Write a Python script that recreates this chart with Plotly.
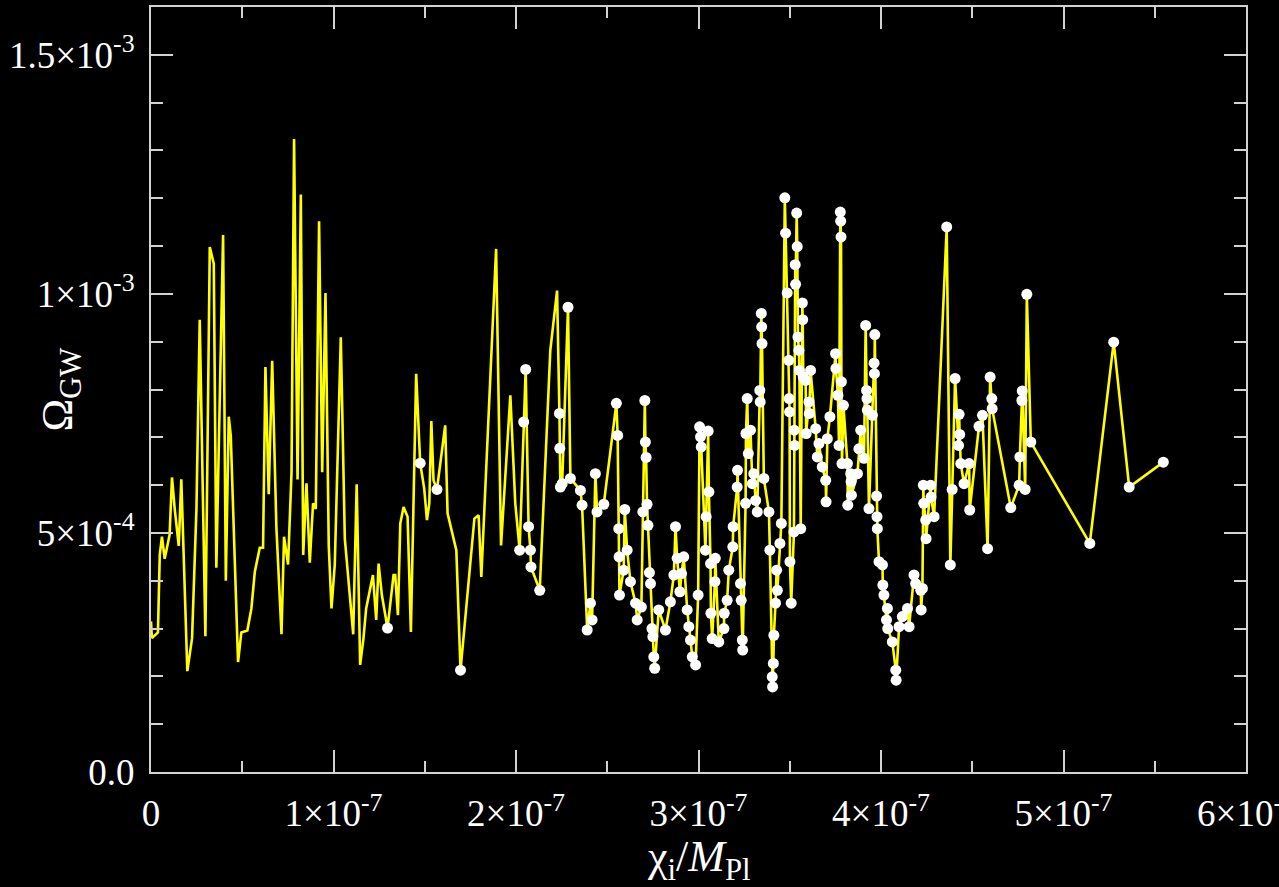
import plotly.graph_objects as go

# chi_i / M_Pl in units of 1e-7 ; Omega_GW in units of 1e-4
# points on the yellow curve that carry no white marker
x_line_only = [0.000, 0.005, 0.038, 0.048, 0.060, 0.075, 0.102, 0.115, 0.130, 0.152,
               0.166, 0.199, 0.225, 0.249, 0.267, 0.276, 0.298, 0.322, 0.344, 0.358,
               0.395, 0.410, 0.426, 0.437, 0.477, 0.495, 0.528, 0.550, 0.569, 0.596,
               0.614, 0.627, 0.645, 0.664, 0.687, 0.715, 0.729, 0.751, 0.770, 0.784,
               0.803, 0.821, 0.834, 0.852, 0.870, 0.888, 0.903, 0.921, 0.938, 0.956,
               0.974, 0.989, 1.007, 1.040, 1.062, 1.108, 1.127, 1.146, 1.164, 1.179,
               1.216, 1.234, 1.247, 1.265, 1.329, 1.338, 1.353, 1.366, 1.384, 1.406,
               1.424, 1.453, 1.497, 1.512, 1.525, 1.536, 1.548, 1.612, 1.625, 1.673,
               1.772, 1.795, 1.810, 1.891, 1.918, 1.969, 1.996, 2.188, 2.225]
y_line_only = [3.15, 2.80, 2.92, 4.54, 4.92, 4.46, 4.96, 6.16, 5.50, 4.73,
               6.12, 2.11, 2.80, 5.50, 9.46, 7.43, 2.84, 10.98, 10.63, 4.27,
               11.23, 4.00, 7.43, 7.04, 2.30, 2.92, 2.96, 3.42, 4.19, 4.69,
               4.69, 8.47, 5.81, 8.60, 5.12, 2.88, 4.92, 4.34, 6.27, 13.24,
               6.12, 12.08, 4.54, 6.04, 4.38, 5.62, 5.50, 11.52, 6.27, 10.02,
               4.73, 3.42, 4.34, 9.09, 4.88, 2.88, 6.02, 2.24, 2.79, 3.42,
               4.12, 3.18, 4.36, 3.70, 4.12, 4.12, 3.28, 5.20, 5.54, 5.34,
               2.93, 8.33, 5.93, 5.27, 5.62, 7.34, 6.10, 7.25, 5.41, 4.64,
               5.30, 5.37, 4.08, 10.94, 4.74, 7.88, 5.62, 8.82, 10.07]

# points on the curve drawn with a white marker
x_dots = [1.296, 1.475, 1.567, 1.696, 2.020, 2.042, 2.053, 2.069, 2.079, 2.082,
          2.130, 2.238, 2.240, 2.243, 2.253, 2.285, 2.298, 2.353, 2.362, 2.390,
          2.408, 2.417, 2.435, 2.444, 2.481, 2.550, 2.557, 2.563, 2.565, 2.567,
          2.590, 2.596, 2.609, 2.627, 2.655, 2.664, 2.687, 2.695, 2.706, 2.709,
          2.713, 2.718, 2.723, 2.731, 2.737, 2.745, 2.750, 2.755, 2.760, 2.782,
          2.819, 2.846, 2.865, 2.874, 2.883, 2.898, 2.907, 2.919, 2.938, 2.947,
          2.956, 2.966, 2.984, 2.998, 3.006, 3.011, 3.015, 3.038, 3.042, 3.053,
          3.057, 3.066, 3.068, 3.075, 3.090, 3.092, 3.111, 3.139, 3.141, 3.157,
          3.166, 3.188, 3.190, 3.212, 3.214, 3.230, 3.234, 3.240, 3.242, 3.258,
          3.260, 3.267, 3.273, 3.285, 3.295, 3.303, 3.313, 3.322, 3.336, 3.338,
          3.344, 3.346, 3.348, 3.358, 3.386, 3.391, 3.404, 3.406, 3.410, 3.413,
          3.422, 3.428, 3.432, 3.446, 3.454, 3.473, 3.477, 3.486, 3.495, 3.497,
          3.499, 3.501, 3.508, 3.523, 3.525, 3.527, 3.530, 3.532, 3.538, 3.541,
          3.545, 3.550, 3.553, 3.560, 3.569, 3.571, 3.574, 3.587, 3.590, 3.605,
          3.607, 3.614, 3.642, 3.651, 3.660, 3.678, 3.697, 3.699, 3.706, 3.720,
          3.751, 3.753, 3.764, 3.770, 3.777, 3.779, 3.781, 3.783, 3.786, 3.794,
          3.816, 3.818, 3.834, 3.836, 3.838, 3.871, 3.879, 3.889, 3.907, 3.916,
          3.921, 3.923, 3.925, 3.934, 3.953, 3.962, 3.964, 3.966, 3.976, 3.978,
          3.980, 3.989, 4.008, 4.010, 4.016, 4.030, 4.035, 4.037, 4.062, 4.081,
          4.083, 4.099, 4.117, 4.145, 4.154, 4.181, 4.190, 4.218, 4.220, 4.227,
          4.232, 4.234, 4.245, 4.247, 4.272, 4.274, 4.291, 4.360, 4.380, 4.390,
          4.406, 4.425, 4.428, 4.431, 4.437, 4.455, 4.483, 4.486, 4.537, 4.556,
          4.584, 4.598, 4.607, 4.609, 4.711, 4.757, 4.761, 4.772, 4.774, 4.790,
          4.799, 4.821, 5.144, 5.275, 5.360, 5.547]
y_dots = [3.01, 6.46, 5.91, 2.13, 4.64, 7.32, 8.42, 5.13, 4.64, 4.29,
          3.80, 7.50, 6.77, 5.96, 6.03, 9.72, 6.14, 5.89, 5.58, 2.97,
          3.53, 3.18, 6.24, 5.44, 5.60, 7.71, 7.04, 5.09, 4.50, 3.70,
          4.22, 5.49, 4.64, 3.98, 3.53, 3.18, 3.45, 5.44, 7.77, 6.90,
          6.58, 5.60, 5.16, 4.17, 3.94, 3.00, 2.83, 2.41, 2.17, 3.39,
          2.97, 3.56, 4.12, 5.13, 4.47, 3.77, 4.15, 4.50, 3.39, 3.04,
          2.76, 2.41, 2.24, 3.70, 7.22, 7.01, 6.80, 4.64, 5.34, 7.13,
          5.86, 4.36, 3.32, 2.79, 3.98, 4.47, 2.72, 3.00, 3.32, 3.59,
          4.22, 4.71, 5.13, 5.96, 6.31, 3.94, 3.59, 2.76, 2.55, 5.62,
          7.08, 7.81, 6.66, 7.15, 6.03, 6.24, 5.68, 5.44, 7.98, 7.74,
          9.59, 9.31, 8.96, 6.14, 5.44, 4.64, 1.99, 1.78, 2.27, 2.86,
          3.53, 4.22, 3.80, 4.78, 5.20, 12.01, 11.27, 10.02, 8.61, 7.81,
          7.53, 4.40, 3.53, 5.02, 7.15, 6.83, 10.61, 10.20, 11.69, 10.99,
          9.10, 8.82, 8.40, 5.09, 9.81, 9.46, 8.26, 8.19, 7.08, 7.74,
          7.50, 8.40, 7.18, 6.59, 6.87, 6.38, 6.10, 5.65, 6.97, 7.43,
          8.75, 8.44, 7.88, 6.83, 11.71, 11.52, 11.19, 8.16, 6.45, 7.67,
          6.45, 5.58, 6.24, 6.07, 5.79, 6.24, 6.76, 7.15, 6.56, 9.34,
          7.98, 7.81, 7.57, 5.51, 7.46, 8.55, 8.33, 9.15, 5.77, 5.34,
          5.09, 4.40, 4.33, 3.91, 3.70, 3.18, 3.42, 3.00, 2.72, 2.13,
          1.92, 3.04, 3.25, 3.42, 3.04, 4.12, 3.94, 3.80, 3.39, 3.84,
          6.00, 5.62, 5.27, 4.88, 6.00, 5.75, 5.34, 11.40, 4.33, 5.91,
          8.23, 6.83, 7.48, 7.06, 6.45, 6.03, 6.45, 5.48, 7.23, 7.46,
          4.67, 8.26, 7.81, 7.60, 5.53, 6.00, 6.59, 7.77, 7.97, 5.91,
          9.99, 6.90, 4.78, 8.99, 5.96, 6.48]

x_tick_vals = [0, 1, 2, 3, 4, 5, 6]
x_tick_text = ["0", "1×10<sup>-7</sup>", "2×10<sup>-7</sup>", "3×10<sup>-7</sup>",
               "4×10<sup>-7</sup>", "5×10<sup>-7</sup>", "6×10<sup>-7</sup>"]
x_minor_vals = [0.5, 1.5, 2.5, 3.5, 4.5, 5.5]
y_tick_vals = [0, 5, 10, 15]
y_tick_text = ["0.0", "5×10<sup>-4</sup>", "1×10<sup>-3</sup>", "1.5×10<sup>-3</sup>"]
y_minor_vals = [1, 2, 3, 4, 6, 7, 8, 9, 11, 12, 13, 14]

# full curve = all points ordered along chi
pts = sorted(zip(x_line_only + x_dots, y_line_only + y_dots))
x_all = [p[0] for p in pts]
y_all = [p[1] for p in pts]

AX = "#d2d2d2"
FONT = "Liberation Serif"

fig = go.Figure()
fig.add_trace(go.Scatter(x=x_all, y=y_all, mode="lines",
                         line=dict(color="#ffff00", width=2.6), hoverinfo="skip"))
fig.add_trace(go.Scatter(x=x_dots, y=y_dots, mode="markers",
                         marker=dict(color="#ffffff", size=11, line=dict(width=0))))

axis_common = dict(showgrid=False, zeroline=False, showline=True, linecolor=AX,
                   linewidth=2, mirror="ticks", ticks="inside", tickcolor=AX,
                   tickwidth=2, ticklen=22, ticklabeloverflow="allow", automargin=False,
                   tickfont=dict(family=FONT, size=37, color="#ffffff"))

fig.update_layout(
    width=1279, height=887,
    margin=dict(l=151, r=33, t=7, b=115, pad=0, autoexpand=False),
    paper_bgcolor="#000000", plot_bgcolor="#000000",
    showlegend=False,
    xaxis=dict(range=[0, 6], tickmode="array", tickvals=x_tick_vals, ticktext=x_tick_text,
               ticklabelstandoff=8,
               minor=dict(tickmode="array", tickvals=x_minor_vals, ticks="inside",
                          ticklen=11, tickwidth=2, tickcolor=AX),
               **axis_common),
    yaxis=dict(range=[0, 16], tickmode="array", tickvals=y_tick_vals, ticktext=y_tick_text,
               ticklabelstandoff=7,
               minor=dict(tickmode="array", tickvals=y_minor_vals, ticks="inside",
                          ticklen=12, tickwidth=2, tickcolor=AX),
               **axis_common),
    annotations=[
        dict(text="χ<sub>i</sub>/<i>M</i><sub>Pl</sub>", xref="paper", yref="paper",
             x=0.5, y=-0.115, xanchor="center", yanchor="middle", showarrow=False,
             font=dict(family=FONT, size=44, color="#ffffff")),
        dict(text="Ω<sub>GW</sub>", xref="paper", yref="paper",
             x=-0.083, y=0.5, xanchor="center", yanchor="middle", showarrow=False,
             textangle=-90, font=dict(family=FONT, size=44, color="#ffffff")),
    ],
)

fig.write_html("out.html", config={"displayModeBar": False},
               post_script="document.body.style.margin='0';document.body.style.overflow='hidden';")
